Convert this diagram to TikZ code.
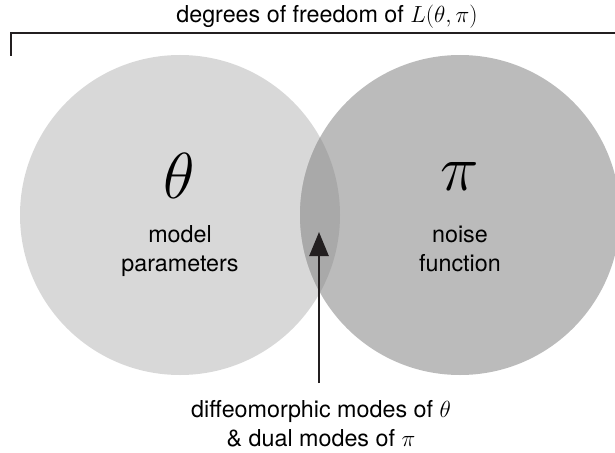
\RequirePackage{fix-cm}
\documentclass[tikz,border=0pt]{standalone}
\usepackage{fontspec}
\setmainfont{TeX Gyre Heros}
\usetikzlibrary{arrows.meta}
\definecolor{lightc}{HTML}{D8D8D8}
\definecolor{darkc}{HTML}{BBBBBB}
\definecolor{overc}{HTML}{A9A9A9}
\definecolor{inkc}{HTML}{231F20}
\begin{document}
\begin{tikzpicture}[x=1pt,y=-1pt,
  lab/.style={font=\fontsize{23.3}{28.5}\selectfont, align=center, inner sep=0pt, text=black},
  sym/.style={font=\fontsize{65}{65}\selectfont, inner sep=0pt, text=black},
  venn/.style={circle, minimum size=320pt, inner sep=0pt, draw=none}]
\useasboundingbox (0,0) rectangle (615,452);
% circles
\node[venn, fill=lightc] (left) at (180,215) {};
\node[venn, fill=darkc] (right) at (460,215) {};
\begin{scope}
  \clip (180,215) circle[radius=160];
  \fill[overc] (460,215) circle[radius=160];
\end{scope}
% bracket
\coordinate (bl) at (11,56);
\coordinate (bc) at (11,33);
\coordinate (br) at (615,33);
\draw[inkc, line width=2pt] (bl) -- (bc) -- (br);
% texts
\node[lab, anchor=base] (top) at (327,23) {degrees of freedom of $L(\theta,\pi)$};
\node[sym] (th) at (179,176) {$\theta$};
\node[sym] (pi) at (460,177) {$\pi$};
\node[lab, anchor=base] (mp) at (180,271) {model\\parameters};
\node[lab, anchor=base] (nf) at (460,271) {noise\\function};
\node[lab, anchor=base] (bot) at (321,446) {diffeomorphic modes of $\theta$\\\& dual modes of $\pi$};
% arrow
\coordinate (atail) at (319,383);
\coordinate (atip) at (319,232);
\draw[inkc, line width=2.6pt, -{Triangle[length=24pt,width=19pt]}] (atail) -- (atip);
\end{tikzpicture}
\end{document}
